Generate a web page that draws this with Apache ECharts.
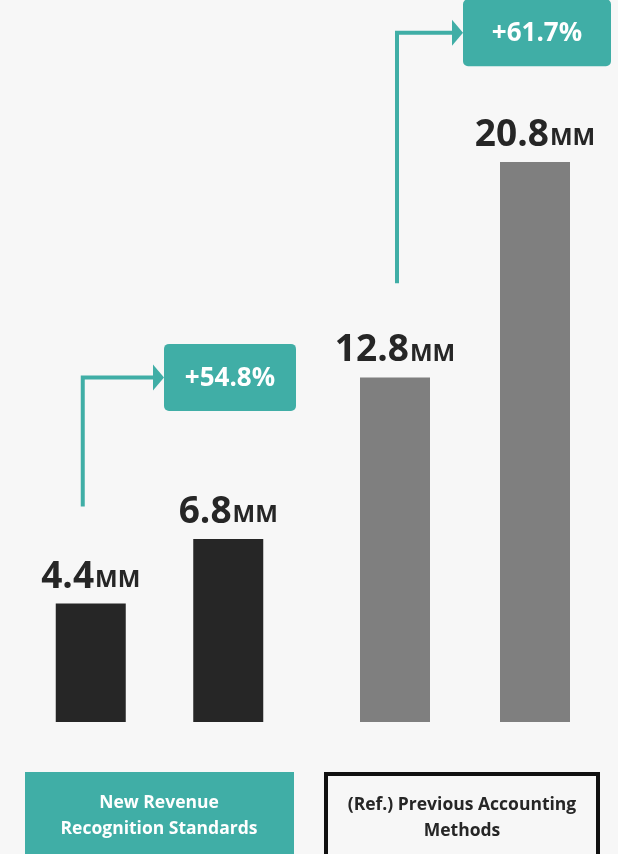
<!DOCTYPE html>
<html>
<head>
<meta charset="utf-8">
<script src="https://cdn.jsdelivr.net/npm/echarts@6/dist/echarts.min.js"></script>
<style>
  html, body { margin: 0; padding: 0; background: #f7f7f7; }
  #chart { width: 618px; height: 854px; }
</style>
</head>
<body>
<div id="chart"></div>
<script>
// Revenue under the new recognition standards vs. the previous accounting methods
const groupTitles = ['New Revenue\nRecognition Standards', '(Ref.) Previous Accounting\nMethods'];
const periods = ['Prior', 'Current'];
const newStandardValues = [4.4, 6.8];
const previousMethodValues = [12.8, 20.8];
const growthLabels = ['+54.8%', '+61.7%'];
const unitLabel = 'MM';

const TEAL = '#40aea6';
const DARK = '#262626';
const GREY = '#7f7f7f';
const BG = '#f7f7f7';
const FONT = '"Open Sans", "DejaVu Sans", sans-serif';

const chart = echarts.init(document.getElementById('chart'), null, { renderer: 'canvas' });

const valueLabel = {
  show: true,
  position: 'top',
  distance: 8,
  formatter: p => `{v|${p.value}}{u|${unitLabel}}`,
  rich: {
    v: { fontFamily: FONT, fontWeight: 'bold', fontSize: 37, color: DARK },
    u: { fontFamily: FONT, fontWeight: 'bold', fontSize: 24, color: DARK, padding: [6, 0, 0, 1] }
  }
};

const yAxisBase = { type: 'value', min: 0, max: 26, show: false };
const xAxisBase = { type: 'category', data: periods, show: false };

chart.setOption({
  backgroundColor: BG,
  animation: false,
  grid: [
    { left: 22, width: 275, top: 22, bottom: 132 },
    { left: 325, width: 280, top: 22, bottom: 132 }
  ],
  xAxis: [
    Object.assign({ gridIndex: 0 }, xAxisBase),
    Object.assign({ gridIndex: 1 }, xAxisBase)
  ],
  yAxis: [
    Object.assign({ gridIndex: 0 }, yAxisBase),
    Object.assign({ gridIndex: 1 }, yAxisBase)
  ],
  series: [
    {
      name: groupTitles[0], type: 'bar', xAxisIndex: 0, yAxisIndex: 0,
      data: newStandardValues, barWidth: 70,
      itemStyle: { color: DARK }, label: valueLabel
    },
    {
      name: groupTitles[1], type: 'bar', xAxisIndex: 1, yAxisIndex: 1,
      data: previousMethodValues, barWidth: 70,
      itemStyle: { color: GREY }, label: valueLabel
    }
  ]
});

// Growth arrows: rise from above the first bar of each group, turn right into the badge.
// from / to are levels on the value axis, dx nudges the riser off the bar centre.
const arrowLayout = [
  { grid: 0, from: 8.0, to: 12.8, dx: -8, badgeLeft: 164, badgeWidth: 132 },
  { grid: 1, from: 16.3, to: 25.6, dx: 2, badgeLeft: 463, badgeWidth: 148 }
];

function toPx(grid, cat, val) {
  return chart.convertToPixel({ gridIndex: grid }, [cat, val]);
}

const graphics = [];
arrowLayout.forEach((a, i) => {
  const base = toPx(a.grid, 0, a.from);
  const top = toPx(a.grid, 0, a.to);
  const x = base[0] + a.dx;
  const y0 = base[1];
  const y1 = top[1];
  const tip = a.badgeLeft;
  graphics.push({
    type: 'polyline',
    shape: { points: [[x, y0], [x, y1], [tip - 10, y1]] },
    style: { stroke: TEAL, lineWidth: 4, fill: null, lineJoin: 'miter' },
    silent: true
  });
  graphics.push({
    type: 'polygon',
    shape: { points: [[tip - 11, y1 - 13], [tip, y1], [tip - 11, y1 + 13]] },
    style: { fill: TEAL },
    silent: true
  });
  graphics.push({
    type: 'rect',
    shape: { x: a.badgeLeft, y: y1 - 33.5, width: a.badgeWidth, height: 67, r: 5 },
    style: { fill: TEAL },
    silent: true
  });
  graphics.push({
    type: 'text',
    x: a.badgeLeft + a.badgeWidth / 2,
    y: y1 + 1,
    style: {
      text: growthLabels[i], fill: '#ffffff',
      font: `bold 26px ${FONT}`,
      textAlign: 'center', textVerticalAlign: 'middle'
    },
    silent: true
  });
});

// Group captions under the bars
const g0 = [toPx(0, 0, 0), toPx(0, 1, 0)];
graphics.push({
  type: 'rect',
  shape: { x: 25, y: 772, width: 269, height: 100 },
  style: { fill: TEAL },
  silent: true
});
graphics.push({
  type: 'text',
  x: (g0[0][0] + g0[1][0]) / 2 - 0.5,
  y: 816,
  style: {
    text: groupTitles[0], fill: '#ffffff',
    font: `bold 17.5px ${FONT}`, lineHeight: 26,
    textAlign: 'center', textVerticalAlign: 'middle'
  },
  silent: true
});
graphics.push({
  type: 'rect',
  shape: { x: 326, y: 774, width: 272, height: 100 },
  style: { fill: BG, stroke: '#111111', lineWidth: 4 },
  silent: true
});
graphics.push({
  type: 'text',
  x: 462,
  y: 818,
  style: {
    text: groupTitles[1], fill: DARK,
    font: `bold 17.5px ${FONT}`, lineHeight: 26,
    textAlign: 'center', textVerticalAlign: 'middle'
  },
  silent: true
});

chart.setOption({ graphic: graphics });
</script>
</body>
</html>
